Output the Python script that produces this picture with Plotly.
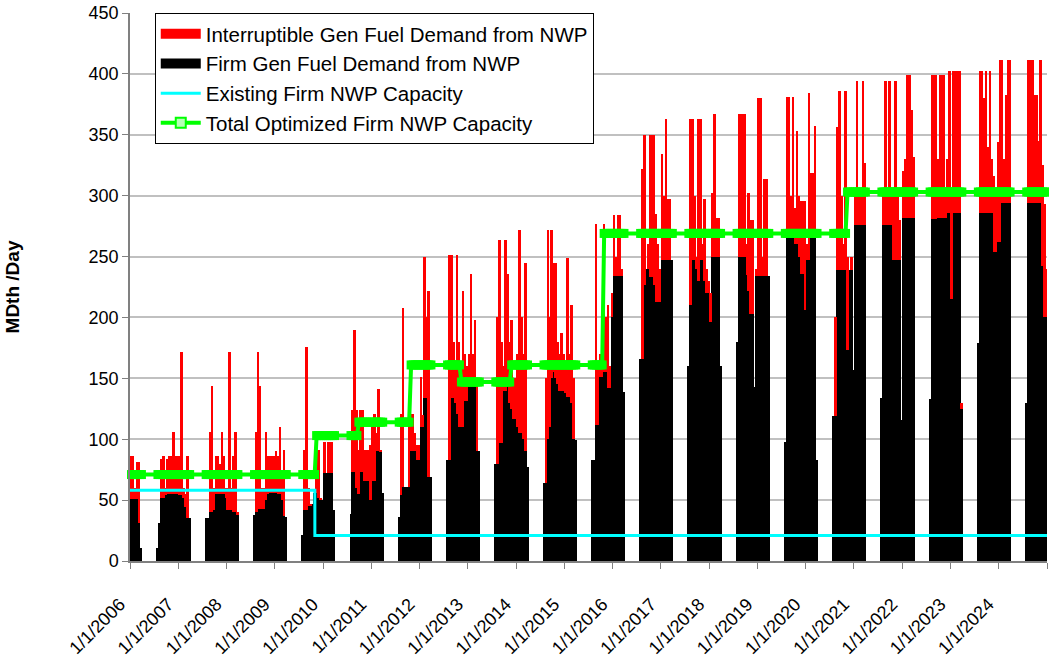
import plotly.graph_objects as go
import pandas as pd

# ---------------- data ----------------
# Each season runs from late July to early April; values are given per
# 15-day bin: firm = black top, total = red top (firm + interruptible).
firm_2006 = [51, 51, 51, 51, 51, 31, 11]          # bins 10-16 of the 2005/06 season
total_2006 = [80, 86, 86, 60, 81, 81, 11]
firm_2007 = [11, 31, 52, 52, 54, 55, 55, 55, 55, 55, 55, 54, 54, 52, 44, 35, 35]
total_2007 = [11, 31, 84, 86, 60, 84, 86, 86, 106, 86, 86, 86, 172, 60, 55, 86, 35]
firm_2008 = [35, 35, 40, 40, 42, 55, 55, 55, 55, 55, 52, 42, 42, 42, 40, 40, 38]
total_2008 = [35, 35, 106, 144, 60, 86, 86, 80, 106, 86, 60, 60, 172, 60, 86, 106, 40]
firm_2009 = [38, 40, 43, 43, 43, 43, 50, 55, 56, 56, 56, 56, 55, 55, 50, 37, 36]
total_2009 = [38, 106, 172, 144, 60, 60, 106, 86, 86, 86, 86, 90, 86, 110, 70, 91, 36]
firm_2010 = [21, 42, 42, 45, 45, 47, 56, 56, 52, 50, 50, 72, 72, 72, 72, 72, 42]
total_2010 = [21, 91, 176, 60, 47, 47, 56, 91, 91, 52, 50, 98, 72, 98, 98, 98, 42]
firm_2011 = [39, 73, 73, 60, 55, 73, 73, 66, 66, 66, 50, 66, 66, 90, 90, 90, 56]
total_2011 = [39, 124, 190, 124, 91, 124, 124, 91, 91, 91, 95, 116, 121, 105, 141, 91, 56]
firm_2012 = [36, 54, 61, 61, 61, 61, 90, 90, 90, 83, 83, 110, 110, 134, 134, 69, 69]
total_2012 = [36, 121, 208, 61, 61, 121, 121, 121, 105, 95, 95, 151, 120, 250, 200, 222, 69]
firm_2013 = [83, 83, 134, 134, 130, 121, 110, 110, 110, 131, 131, 145, 148, 148, 150, 90, 90]
total_2013 = [83, 251, 251, 180, 160, 251, 180, 160, 222, 170, 160, 170, 236, 170, 198, 150, 90]
firm_2014 = [80, 80, 97, 97, 140, 140, 150, 130, 125, 117, 117, 110, 105, 105, 100, 90, 77]
total_2014 = [80, 200, 264, 180, 160, 264, 236, 180, 198, 150, 150, 170, 272, 200, 170, 245, 77]
firm_2015 = [64, 64, 100, 110, 150, 155, 150, 145, 140, 140, 140, 138, 135, 135, 130, 100, 99]
total_2015 = [64, 150, 272, 200, 272, 245, 245, 180, 170, 187, 170, 160, 249, 170, 210, 150, 99]
firm_2016 = [83, 83, 112, 112, 151, 151, 155, 155, 142, 142, 200, 234, 234, 234, 234, 234, 139]
total_2016 = [83, 83, 277, 160, 170, 180, 277, 200, 210, 160, 220, 284, 250, 284, 284, 240, 139]
firm_2017 = [166, 166, 227, 240, 240, 233, 233, 227, 213, 213, 213, 247, 247, 247, 247, 247, 247]
total_2017 = [166, 322, 350, 240, 260, 350, 350, 350, 285, 260, 240, 334, 300, 363, 297, 297, 247]
firm_2018 = [160, 210, 247, 247, 240, 230, 247, 247, 230, 220, 220, 196, 250, 250, 250, 250, 160]
total_2018 = [160, 363, 363, 300, 250, 363, 363, 260, 297, 240, 230, 220, 302, 367, 282, 282, 160]
firm_2019 = [180, 250, 250, 250, 250, 235, 222, 203, 203, 143, 234, 234, 234, 234, 234, 234, 234]
total_2019 = [180, 367, 367, 367, 367, 260, 302, 280, 280, 143, 240, 380, 380, 250, 314, 314, 234]
firm_2020 = [98, 266, 266, 266, 266, 260, 260, 250, 236, 236, 206, 247, 247, 266, 266, 266, 83]
total_2020 = [98, 381, 381, 300, 381, 290, 353, 300, 296, 296, 296, 260, 384, 319, 319, 357, 83]
firm_2021 = [119, 119, 239, 239, 239, 239, 239, 173, 239, 239, 157, 276, 276, 276, 276, 276, 276]
total_2021 = [119, 200, 356, 386, 300, 260, 386, 250, 239, 250, 157, 300, 394, 300, 300, 394, 327]
firm_2022 = [134, 276, 276, 276, 276, 276, 247, 247, 247, 247, 116, 282, 282, 282, 282, 282, 282]
total_2022 = [134, 300, 394, 300, 394, 300, 300, 394, 300, 280, 116, 320, 330, 399, 399, 370, 332]
firm_2023 = [133, 281, 281, 281, 282, 282, 282, 282, 282, 286, 286, 215, 286, 286, 286, 286, 125]
total_2023 = [133, 399, 399, 399, 330, 399, 399, 399, 300, 330, 402, 300, 402, 402, 402, 402, 130]
firm_2024 = [179, 286, 286, 286, 286, 286, 286, 286, 254, 254, 262, 262, 294, 294, 294, 294, 294]
total_2024 = [179, 402, 402, 380, 402, 340, 402, 330, 316, 300, 344, 411, 411, 330, 383, 411, 411]
firm_2025 = [130, 294, 294, 294, 294, 294, 294, 294, 242, 200, 200]
total_2025 = [130, 411, 411, 411, 383, 383, 345, 411, 325, 293, 240]

season_end_years = list(range(2006, 2026))
season_first_bin = [10] + [0] * 19

# Capacity series (effective date, MDth/Day)
optimized_dates = ["2005-07-01", "2009-10-31", "2010-09-24", "2011-10-27",
                   "2012-11-06", "2013-11-22", "2015-10-23", "2020-11-05"]
optimized_values = [71, 103, 114, 161, 147, 161, 269, 303]
existing_dates = ["2006-01-01", "2009-10-31", "2025-01-01"]
existing_values = [58, 21, 21]

tick_years = list(range(2006, 2026))
tick_labels = [f"1/1/{y}" for y in range(2006, 2025)] + [""]

NAME_INT = "Interruptible Gen Fuel Demand from NWP"
NAME_FIRM = "Firm Gen Fuel Demand from NWP"
NAME_EXIST = "Existing Firm NWP Capacity"
NAME_OPT = "Total Optimized Firm NWP Capacity"

# ---------------- assemble ----------------
firm_lists = [firm_2006, firm_2007, firm_2008, firm_2009, firm_2010, firm_2011,
              firm_2012, firm_2013, firm_2014, firm_2015, firm_2016, firm_2017,
              firm_2018, firm_2019, firm_2020, firm_2021, firm_2022, firm_2023,
              firm_2024, firm_2025]
total_lists = [total_2006, total_2007, total_2008, total_2009, total_2010, total_2011,
               total_2012, total_2013, total_2014, total_2015, total_2016, total_2017,
               total_2018, total_2019, total_2020, total_2021, total_2022, total_2023,
               total_2024, total_2025]

BIN_DAYS = 15
xs, firm_y, intr_y = [], [], []
for yr, off, fl, tl in zip(season_end_years, season_first_bin, firm_lists, total_lists):
    start = pd.Timestamp(yr - 1, 7, 24)
    for j, (f, t) in enumerate(zip(fl, tl)):
        xs.append(start + pd.Timedelta(days=BIN_DAYS * (j + off) + BIN_DAYS / 2))
        firm_y.append(f)
        intr_y.append(max(t - f, 0))

opt_ts = [pd.Timestamp(d) for d in optimized_dates]
green_y = []
for x in xs:
    v = optimized_values[0]
    for d, val in zip(opt_ts, optimized_values):
        if x >= d:
            v = val
    green_y.append(v)

FONT = "Arial, Liberation Sans, sans-serif"
width_ms = BIN_DAYS * 86400000

fig = go.Figure()
fig.add_trace(go.Bar(x=xs, y=firm_y, width=width_ms, name=NAME_FIRM,
                     marker=dict(color="#000000", line=dict(width=0)), showlegend=False))
fig.add_trace(go.Bar(x=xs, y=intr_y, width=width_ms, name=NAME_INT,
                     marker=dict(color="#FF0000", line=dict(width=0)), showlegend=False))
fig.add_trace(go.Scatter(x=pd.to_datetime(existing_dates), y=existing_values, mode="lines",
                         line=dict(color="#00FFFF", width=3, shape="hv"),
                         name=NAME_EXIST, legendrank=3, legendgroup="c"))
fig.add_trace(go.Scatter(x=xs, y=green_y, mode="lines+markers",
                         line=dict(color="#00FF00", width=4),
                         marker=dict(symbol="square", size=9, color="#00FF00",
                                     line=dict(width=0)),
                         cliponaxis=False, name=NAME_OPT, showlegend=False))

# legend entries (symbols styled like the reference legend)
fig.add_trace(go.Scatter(x=[None], y=[None], mode="lines", name=NAME_INT,
                         line=dict(color="#FF0000", width=13), legendrank=1, legendgroup="a"))
fig.add_trace(go.Scatter(x=[None], y=[None], mode="lines", name=NAME_FIRM,
                         line=dict(color="#000000", width=13), legendrank=2, legendgroup="b"))
fig.add_trace(go.Scatter(x=[None], y=[None], mode="lines+markers", name=NAME_OPT,
                         line=dict(color="#00FF00", width=4),
                         marker=dict(symbol="square", size=10, color="#B8FFB8",
                                     line=dict(color="#00FF00", width=2)),
                         legendrank=4, legendgroup="d"))

fig.update_layout(
    width=1049, height=661,
    margin=dict(l=130, r=2, t=13, b=100),
    paper_bgcolor="white", plot_bgcolor="white",
    barmode="stack", bargap=0,
    font=dict(family=FONT, color="black", size=18),
    showlegend=True,
    legend=dict(x=0.027, y=1.0, xanchor="left", yanchor="top",
                bgcolor="white", bordercolor="black", borderwidth=1,
                font=dict(family=FONT, size=20.5, color="black"),
                traceorder="grouped", tracegroupgap=0, itemwidth=40),
)
fig.update_xaxes(
    type="date", range=["2006-01-01", "2025-01-01"], automargin=False,
    tickvals=[pd.Timestamp(y, 1, 1) for y in tick_years], ticktext=tick_labels,
    tickangle=-45, tickfont=dict(size=18, family=FONT),
    ticks="outside", ticklen=6, tickcolor="#808080",
    ticklabelstandoff=18, ticklabelshift=-10,
    showline=True, linecolor="#808080", linewidth=1.5, showgrid=False, zeroline=False,
)
fig.update_yaxes(
    range=[0, 450], dtick=50, tickfont=dict(size=18, family=FONT), automargin=False,
    ticks="outside", ticklen=6, tickcolor="#808080", ticklabeloverflow="allow",
    showline=True, linecolor="#808080", linewidth=1.5,
    showgrid=True, gridcolor="#C0C0C0", gridwidth=1.5, zeroline=False,
    title=dict(text="MDth /Day", font=dict(size=19, family=FONT, weight="bold"), standoff=64),
)

# remove the default 8px page margin so the 1049x661 figure fills the window
fig.write_html("out.html", config={"displayModeBar": False},
               post_script="document.body.style.margin='0px';")
